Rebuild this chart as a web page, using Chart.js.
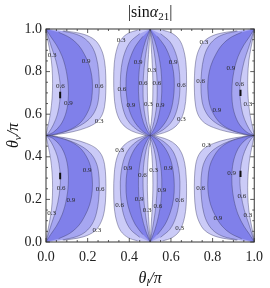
<!DOCTYPE html>
<html>
<head>
<meta charset="utf-8">
<script src="https://cdn.jsdelivr.net/npm/chart.js@4.4.0/dist/chart.umd.min.js"></script>
<style>
  html, body { margin: 0; padding: 0; background: #fff; }
</style>
</head>
<body>
<canvas id="chart" width="270" height="288"></canvas>
<script>
// contour levels and their shading
const levels = [0.3, 0.6, 0.9];
const levelColors = ["#cbcbf7", "#a6a6f1", "#8080ea"];

// axis ticks
const majorTicks = [0, 0.2, 0.4, 0.6, 0.8, 1.0];
const minorTicks = [0.05, 0.1, 0.15, 0.25, 0.3, 0.35, 0.45, 0.5, 0.55, 0.65, 0.7, 0.75, 0.85, 0.9, 0.95];

// lobe at the left edge, top half: contour curves from (0,1) down to (0,0.5)
// inner = curve near x=0, outer = curve bulging right; one per level
const edgeInner = [
  [[0,1],[0.006,0.96],[0.016,0.91],[0.026,0.85],[0.031,0.78],[0.031,0.71],[0.026,0.64],[0.017,0.58],[0.007,0.535],[0,0.5]],
  [[0,1],[0.012,0.96],[0.028,0.91],[0.048,0.85],[0.063,0.78],[0.069,0.72],[0.066,0.66],[0.055,0.60],[0.035,0.55],[0.014,0.515],[0,0.5]],
  [[0,1],[0.022,0.965],[0.05,0.925],[0.078,0.87],[0.098,0.80],[0.107,0.73],[0.106,0.66],[0.094,0.60],[0.07,0.55],[0.035,0.515],[0,0.5]]
];
const edgeOuter = [
  [[0,1],[0.084,0.992],[0.178,0.976],[0.235,0.948],[0.265,0.905],[0.281,0.85],[0.287,0.78],[0.287,0.70],[0.281,0.635],[0.266,0.59],[0.24,0.56],[0.195,0.537],[0.13,0.518],[0.06,0.506],[0,0.5]],
  [[0,1],[0.08,0.99],[0.146,0.975],[0.19,0.952],[0.222,0.915],[0.242,0.865],[0.253,0.80],[0.256,0.73],[0.252,0.67],[0.24,0.625],[0.215,0.585],[0.175,0.553],[0.12,0.527],[0.06,0.51],[0,0.5]],
  [[0,1],[0.06,0.985],[0.115,0.959],[0.155,0.925],[0.185,0.88],[0.209,0.826],[0.222,0.76],[0.222,0.70],[0.214,0.645],[0.195,0.60],[0.165,0.56],[0.12,0.53],[0.06,0.51],[0,0.5]]
];

// lobe left of the centre line, top half: curves from (0.5,1) down to (0.5,0.5)
const centerOuter = [
  [[0.5,1],[0.44,0.995],[0.395,0.98],[0.36,0.95],[0.34,0.905],[0.328,0.84],[0.325,0.76],[0.327,0.69],[0.334,0.63],[0.35,0.58],[0.375,0.545],[0.41,0.522],[0.455,0.507],[0.5,0.5]],
  [[0.5,1],[0.45,0.978],[0.405,0.94],[0.377,0.885],[0.362,0.82],[0.357,0.75],[0.359,0.685],[0.37,0.625],[0.39,0.575],[0.42,0.54],[0.458,0.515],[0.5,0.5]],
  [[0.5,1],[0.465,0.965],[0.43,0.92],[0.403,0.86],[0.388,0.80],[0.384,0.735],[0.389,0.67],[0.403,0.61],[0.428,0.56],[0.462,0.522],[0.5,0.5]]
];
const centerInner = [
  [[0.5,1],[0.495,0.92],[0.49,0.84],[0.487,0.76],[0.487,0.70],[0.489,0.63],[0.494,0.565],[0.5,0.5]],
  [[0.5,1],[0.488,0.935],[0.476,0.86],[0.468,0.78],[0.466,0.72],[0.468,0.65],[0.476,0.59],[0.488,0.54],[0.5,0.5]],
  [[0.5,1],[0.478,0.945],[0.46,0.88],[0.448,0.81],[0.444,0.74],[0.446,0.67],[0.455,0.61],[0.468,0.56],[0.485,0.523],[0.5,0.5]]
];

// tiny black peak regions
const peakMarks = [
  [[0.068,0.675],[0.068,0.705]],
  [[0.934,0.685],[0.934,0.715]],
  [[0.068,0.295],[0.068,0.325]],
  [[0.934,0.305],[0.934,0.335]]
];

// contour labels [x, y, text]
const contourLabels = [
  [0.029,0.876,"0.3"],[0.193,0.85,"0.9"],[0.069,0.732,"0.6"],[0.255,0.732,"0.6"],[0.107,0.651,"0.9"],[0.255,0.568,"0.3"],
  [0.361,0.948,"0.3"],[0.442,0.842,"0.9"],[0.364,0.717,"0.6"],[0.466,0.748,"0.6"],[0.407,0.643,"0.9"],[0.492,0.646,"0.3"],
  [0.509,0.807,"0.3"],[0.611,0.844,"0.9"],[0.533,0.748,"0.6"],[0.65,0.737,"0.6"],[0.548,0.643,"0.9"],[0.65,0.576,"0.3"],
  [0.758,0.94,"0.3"],[0.888,0.818,"0.9"],[0.743,0.753,"0.6"],[0.93,0.742,"0.6"],[0.821,0.62,"0.9"],[0.969,0.648,"0.3"],
  [0.198,0.338,"0.9"],[0.073,0.252,"0.6"],[0.26,0.247,"0.6"],[0.12,0.197,"0.9"],[0.027,0.135,"0.3"],[0.244,0.056,"0.3"],
  [0.354,0.432,"0.3"],[0.393,0.346,"0.9"],[0.463,0.315,"0.6"],[0.354,0.174,"0.6"],[0.447,0.2,"0.9"],[0.486,0.15,"0.3"],
  [0.517,0.338,"0.3"],[0.587,0.346,"0.9"],[0.556,0.244,"0.9"],[0.537,0.17,"0.6"],[0.642,0.197,"0.6"],[0.642,0.064,"0.3"],
  [0.77,0.457,"0.3"],[0.891,0.323,"0.9"],[0.743,0.252,"0.6"],[0.94,0.213,"0.6"],[0.825,0.113,"0.9"],[0.969,0.125,"0.3"]
];

// the plot is mirror symmetric in x about 0.5 and in y about 0.5
const mirrors = [
  p => p,
  p => [1 - p[0], p[1]],
  p => [p[0], 1 - p[1]],
  p => [1 - p[0], 1 - p[1]]
];

function lobePolygon(inner, outer, m) {
  const pts = inner.concat(outer.slice(1, -1).reverse());
  return pts.map(p => { const q = m(p); return { x: q[0], y: q[1] }; });
}

const datasets = [];
[[edgeInner, edgeOuter], [centerInner, centerOuter]].forEach(([inner, outer]) => {
  mirrors.forEach(m => {
    levels.forEach((lv, i) => {
      datasets.push({
        label: "|sin a21| > " + lv,
        data: lobePolygon(inner[i], outer[i], m),
        fill: "shape",
        backgroundColor: levelColors[i],
        borderColor: "rgba(55,55,100,0.6)",
        borderWidth: 0.7,
        pointRadius: 0,
        tension: 0.35,
        order: 10 - i
      });
    });
  });
});
peakMarks.forEach(seg => {
  datasets.push({
    label: "peak",
    data: seg.map(p => ({ x: p[0], y: p[1] })),
    fill: false,
    borderColor: "#111",
    borderWidth: 2,
    pointRadius: 0,
    order: 0
  });
});

const serif = '"Liberation Serif", "DejaVu Serif", serif';

const decor = {
  id: "decor",
  afterDatasetsDraw(chart) {
    const { ctx, chartArea: a, scales: { x, y } } = chart;
    ctx.save();

    // contour labels
    ctx.font = "7px " + serif;
    ctx.fillStyle = "#2a2a2a";
    ctx.textAlign = "center";
    ctx.textBaseline = "middle";
    contourLabels.forEach(([lx, ly, t]) => {
      ctx.fillText(t, x.getPixelForValue(lx), y.getPixelForValue(ly));
    });

    // frame
    ctx.strokeStyle = "#333";
    ctx.lineWidth = 1;
    ctx.strokeRect(a.left, a.top, a.right - a.left, a.bottom - a.top);

    // inward ticks on all four sides
    const tick = (vals, len) => {
      vals.forEach(v => {
        const px = x.getPixelForValue(v);
        const py = y.getPixelForValue(v);
        ctx.beginPath();
        ctx.moveTo(px, a.bottom); ctx.lineTo(px, a.bottom - len);
        ctx.moveTo(px, a.top); ctx.lineTo(px, a.top + len);
        ctx.moveTo(a.left, py); ctx.lineTo(a.left + len, py);
        ctx.moveTo(a.right, py); ctx.lineTo(a.right - len, py);
        ctx.stroke();
      });
    };
    ctx.lineWidth = 0.8;
    tick(majorTicks, 4);
    tick(minorTicks, 2);

    // title |sin α21|
    ctx.fillStyle = "#111";
    ctx.textAlign = "left";
    ctx.textBaseline = "alphabetic";
    const drawParts = (ps, cx, base) => {
      let w = 0;
      ps.forEach(([t, f]) => { ctx.font = f; w += ctx.measureText(t).width; });
      let cur = cx - w / 2;
      ps.forEach(([t, f, dy]) => {
        ctx.font = f;
        ctx.fillText(t, cur, base + dy);
        cur += ctx.measureText(t).width;
      });
    };
    const cx = (a.left + a.right) / 2;
    drawParts([
      ["|sin", "16px " + serif, 0],
      ["α", "italic 16px " + serif, 0],
      ["21", "11px " + serif, 3],
      ["|", "16px " + serif, 0]
    ], cx, 17);

    // x axis title θl/π
    drawParts([
      ["θ", "italic 16px " + serif, 0],
      ["l", "italic 11px " + serif, 3],
      ["/π", "italic 16px " + serif, 0]
    ], cx, 283);

    // y axis title θν/π
    ctx.translate(18, (a.top + a.bottom) / 2);
    ctx.rotate(-Math.PI / 2);
    drawParts([
      ["θ", "italic 16px " + serif, 0],
      ["ν", "italic 11px " + serif, 3],
      ["/π", "italic 16px " + serif, 0]
    ], 0, 0);

    ctx.restore();
  }
};

new Chart(document.getElementById("chart").getContext("2d"), {
  type: "line",
  data: { datasets: datasets },
  options: {
    responsive: false,
    animation: false,
    layout: { padding: { top: 29, right: 10, left: 0, bottom: 0 } },
    plugins: {
      legend: { display: false },
      title: { display: false },
      tooltip: { enabled: false }
    },
    scales: {
      x: {
        type: "linear",
        min: 0,
        max: 1,
        grid: { display: false, drawTicks: false },
        border: { display: false },
        ticks: {
          stepSize: 0.2,
          padding: 7,
          color: "#222",
          font: { family: serif, size: 14 },
          maxRotation: 0,
          callback: v => v.toFixed(1)
        },
        afterFit: s => { s.height = 46; }
      },
      y: {
        type: "linear",
        min: 0,
        max: 1,
        grid: { display: false, drawTicks: false },
        border: { display: false },
        ticks: {
          stepSize: 0.2,
          padding: 4,
          color: "#222",
          font: { family: serif, size: 14 },
          callback: v => v.toFixed(1)
        },
        afterFit: s => { s.width = 46; }
      }
    }
  },
  plugins: [decor]
});
</script>
</body>
</html>
